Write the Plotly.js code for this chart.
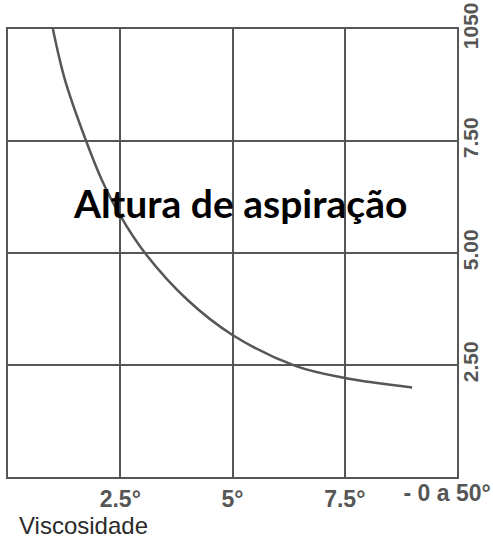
<!DOCTYPE html>
<html>
<head>
<meta charset="utf-8">
<script src="https://cdn.plot.ly/plotly-3.0.1.min.js"></script>
<style>html,body{margin:0;padding:0;background:#fff;}#chart{width:493px;height:544px;}</style>
</head>
<body>
<div id="chart"></div>
<script>
// Curve: suction height vs viscosity
const viscosity = [1.0, 1.27, 1.74, 2.09, 2.49, 3.05, 4.0, 5.0, 6.4, 7.5, 9.0];
const suctionHeight = [10.0, 8.86, 7.5, 6.63, 5.85, 5.0, 3.95, 3.17, 2.48, 2.21, 2.0];

const xTickVals = [2.5, 5, 7.5];
const xTickText = ['2.5°', '5°', '7.5°'];
const xEndTickVal = [9.78];
const xEndTickText = ['- 0 a 50°'];
const yTickVals = [2.5, 5, 7.5, 10];
const yTickText = ['2.50', '5.00', '7.50', '1050'];

const gray = '#565656';
const xTickFont = {family: 'Liberation Sans, Arial, sans-serif', size: 23, color: gray, weight: 700};
const yTickFont = {family: 'Liberation Sans, Arial, sans-serif', size: 21, color: gray, weight: 700};

const data = [
  {x: viscosity, y: suctionHeight, type: 'scatter', mode: 'lines',
   line: {color: gray, width: 2.5, shape: 'spline', smoothing: 1},
   hoverinfo: 'skip', showlegend: false},
  {x: [0], y: [0], xaxis: 'x2', type: 'scatter', mode: 'markers',
   marker: {opacity: 0}, hoverinfo: 'skip', showlegend: false}
];

const layout = {
  width: 493, height: 544,
  margin: {l: 8, r: 36, t: 29, b: 67, pad: 0},
  paper_bgcolor: '#fff', plot_bgcolor: '#fff',
  xaxis: {
    range: [0, 10], tickvals: xTickVals, ticktext: xTickText,
    showgrid: true, gridcolor: gray, gridwidth: 2,
    showline: true, linecolor: gray, linewidth: 2, mirror: true,
    ticks: '', tickfont: xTickFont, ticklabelstandoff: 0, zeroline: false, fixedrange: true
  },
  xaxis2: {
    overlaying: 'x', range: [0, 10], tickvals: xEndTickVal, ticktext: xEndTickText,
    side: 'bottom', showgrid: false, showline: false, zeroline: false,
    ticks: '', tickfont: xTickFont, ticklabelstandoff: 0, fixedrange: true
  },
  yaxis: {
    range: [0, 10], side: 'right', tickvals: yTickVals, ticktext: yTickText,
    tickangle: -90, showgrid: true, gridcolor: gray, gridwidth: 2,
    showline: true, linecolor: gray, linewidth: 2, mirror: true,
    ticks: '', tickfont: yTickFont, ticklabelstandoff: -6, zeroline: false, fixedrange: true
  },
  annotations: [
    {text: 'Altura de aspiração', xref: 'paper', yref: 'paper', x: 0.5167, y: 0.612,
     xanchor: 'center', yanchor: 'middle', showarrow: false,
     font: {family: 'Lato, sans-serif', size: 39, color: '#000', weight: 700}},
    {text: 'Viscosidade', xref: 'paper', yref: 'paper', x: 0.02, y: -0.108,
     xanchor: 'left', yanchor: 'middle', showarrow: false,
     font: {family: 'Liberation Sans, Arial, sans-serif', size: 24, color: '#2a2a2a'}},
    {text: 'M', xref: 'paper', yref: 'paper', x: 1.069, y: 0.35,
     xanchor: 'left', yanchor: 'middle', textangle: -90, showarrow: false,
     font: {family: 'Liberation Sans, Arial, sans-serif', size: 20, color: gray, weight: 700}}
  ]
};

Plotly.newPlot('chart', data, layout, {displayModeBar: false, staticPlot: true});
</script>
</body>
</html>
